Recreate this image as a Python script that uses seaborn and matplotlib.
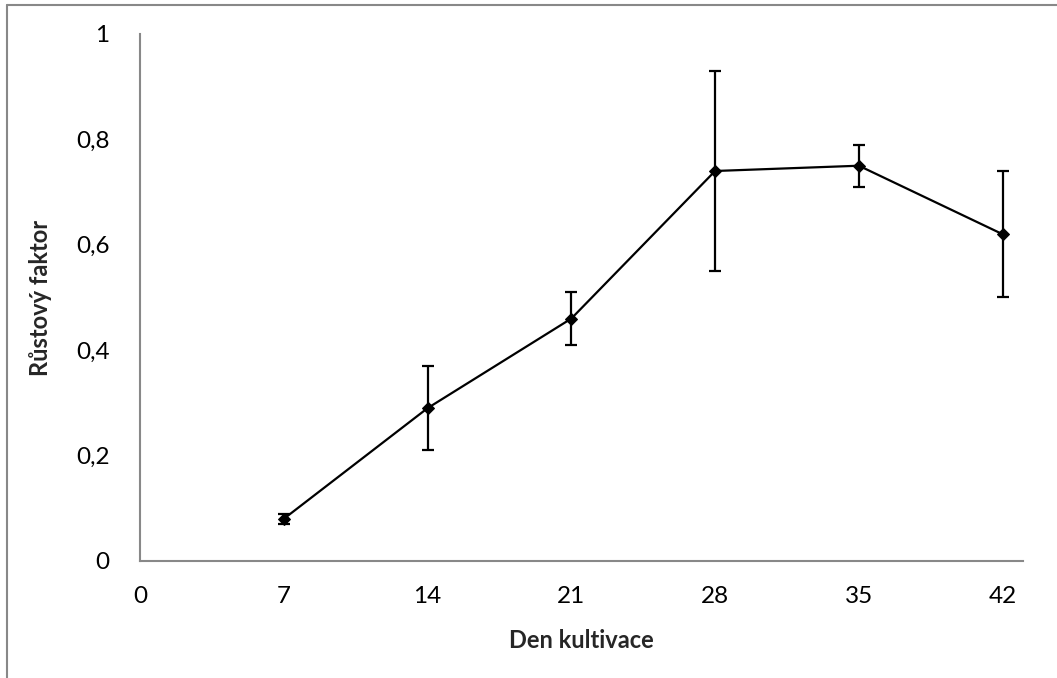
import matplotlib
matplotlib.use("Agg")
import matplotlib.pyplot as plt
import seaborn as sns
import pandas as pd
from matplotlib.lines import Line2D

# data
days = [7, 14, 21, 28, 35, 42]
growth = [0.08, 0.29, 0.46, 0.74, 0.75, 0.62]
growth_err = [0.01, 0.08, 0.05, 0.19, 0.04, 0.12]
x_ticks = [0, 7, 14, 21, 28, 35, 42]
y_ticks = [0, 0.2, 0.4, 0.6, 0.8, 1.0]
y_tick_labels = ["0", "0,2", "0,4", "0,6", "0,8", "1"]

df = pd.DataFrame({"Den kultivace": days, "Růstový faktor": growth, "err": growth_err})

sns.set_style("white")
plt.rcParams["font.family"] = ["Lato", "DejaVu Sans"]

fig = plt.figure(figsize=(10.57, 6.78), dpi=100)
ax = fig.add_axes([0.1325, 0.1726, 0.8355, 0.7773])

# error bars first, then line + diamond markers
ax.errorbar(df["Den kultivace"], df["Růstový faktor"], yerr=df["err"],
            fmt="none", ecolor="black", elinewidth=1.6, capsize=4.3, capthick=1.6, zorder=2)
sns.lineplot(data=df, x="Den kultivace", y="Růstový faktor", ax=ax,
             color="black", linewidth=1.6, marker="D", markersize=6.5,
             markeredgecolor="black", markerfacecolor="black", zorder=3)

ax.set_xlim(0, 43)
ax.set_ylim(0, 1)
ax.set_xticks(x_ticks)
ax.set_xticklabels([str(t) for t in x_ticks])
ax.set_yticks(y_ticks)
ax.set_yticklabels(y_tick_labels)
ax.tick_params(axis="both", length=0, labelsize=17.5, colors="black")
ax.tick_params(axis="x", pad=18)
ax.tick_params(axis="y", pad=22)

ax.set_xlabel("Den kultivace", fontsize=17, fontweight="bold", va="center")
ax.set_ylabel("Růstový faktor", fontsize=17, fontweight="bold", va="center")
ax.xaxis.set_label_coords(0.5, -0.15)
ax.yaxis.set_label_coords(-0.113, 0.5)

for side in ["top", "right"]:
    ax.spines[side].set_visible(False)
for side in ["left", "bottom"]:
    ax.spines[side].set_color("#888888")
    ax.spines[side].set_linewidth(1.5)

# chart area border (top and left edges only visible)
fig.add_artist(Line2D([7 / 1057, 7 / 1057], [0, 1 - 5 / 678], transform=fig.transFigure,
                      color="#888888", linewidth=1.5))
fig.add_artist(Line2D([7 / 1057, 1], [1 - 5 / 678, 1 - 5 / 678], transform=fig.transFigure,
                      color="#888888", linewidth=1.5))

fig.savefig("out.png", dpi=100)
